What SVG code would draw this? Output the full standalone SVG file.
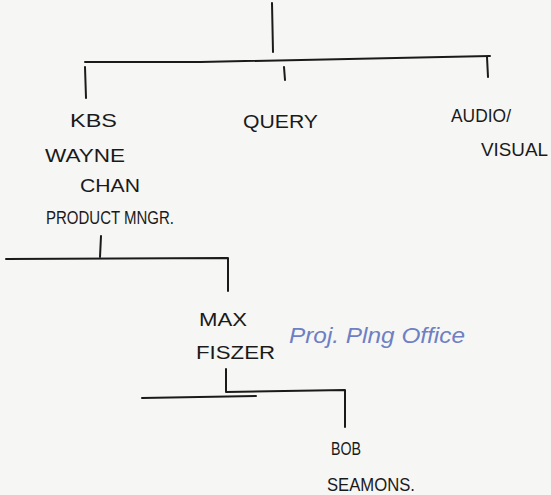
<svg xmlns="http://www.w3.org/2000/svg" width="551" height="495" viewBox="0 0 551 495">
<style>
.ln{fill:none;stroke:#1a1a1a;stroke-width:2;stroke-linecap:round;stroke-linejoin:round}
.t{font-family:"Liberation Sans",Arial,sans-serif;font-size:19px;fill:#1a1a1a}
.b{font-family:"Liberation Sans",Arial,sans-serif;font-size:22px;fill:#6e7fc4;font-style:italic}
</style>
<rect width="551" height="495" fill="#f6f6f4"/>
<g id="connectors">
<path class="ln" d="M272 3 L273 52"/>
<path class="ln" d="M85 62 L200 62 L490 56"/>
<path class="ln" d="M85 67 L86 98"/>
<path class="ln" d="M284 67 L285 80"/>
<path class="ln" d="M487 57 L488 77"/>
<path class="ln" d="M101 236 L100 257"/>
<path class="ln" d="M6 259 L228 258 L228 291"/>
<path class="ln" d="M226 369 L226 392 L345 390 L345 427"/>
<path class="ln" d="M142 398 L256 396"/>
</g>
<g id="node-root"/>
<g id="node-kbs">
<text class="t" x="70" y="127" textLength="47" lengthAdjust="spacingAndGlyphs">KBS</text>
<text class="t" x="45" y="162" textLength="80" lengthAdjust="spacingAndGlyphs">WAYNE</text>
<text class="t" x="80" y="192" textLength="60" lengthAdjust="spacingAndGlyphs">CHAN</text>
<text class="t" x="46" y="224" textLength="128" lengthAdjust="spacingAndGlyphs">PRODUCT MNGR.</text>
</g>
<g id="node-query">
<text class="t" x="243" y="128" textLength="75" lengthAdjust="spacingAndGlyphs">QUERY</text>
</g>
<g id="node-audio">
<text class="t" x="451" y="122" textLength="60" lengthAdjust="spacingAndGlyphs">AUDIO/</text>
<text class="t" x="481" y="156" textLength="67" lengthAdjust="spacingAndGlyphs">VISUAL</text>
</g>
<g id="node-max">
<text class="t" x="199" y="326" textLength="48" lengthAdjust="spacingAndGlyphs">MAX</text>
<text class="t" x="196" y="359" textLength="79" lengthAdjust="spacingAndGlyphs">FISZER</text>
<text class="b" x="289" y="343" textLength="176" lengthAdjust="spacingAndGlyphs">Proj. Plng Office</text>
</g>
<g id="node-bob">
<text class="t" x="331" y="455" textLength="30" lengthAdjust="spacingAndGlyphs">BOB</text>
<text class="t" x="327" y="491" textLength="88" lengthAdjust="spacingAndGlyphs">SEAMONS.</text>
</g>
</svg>
